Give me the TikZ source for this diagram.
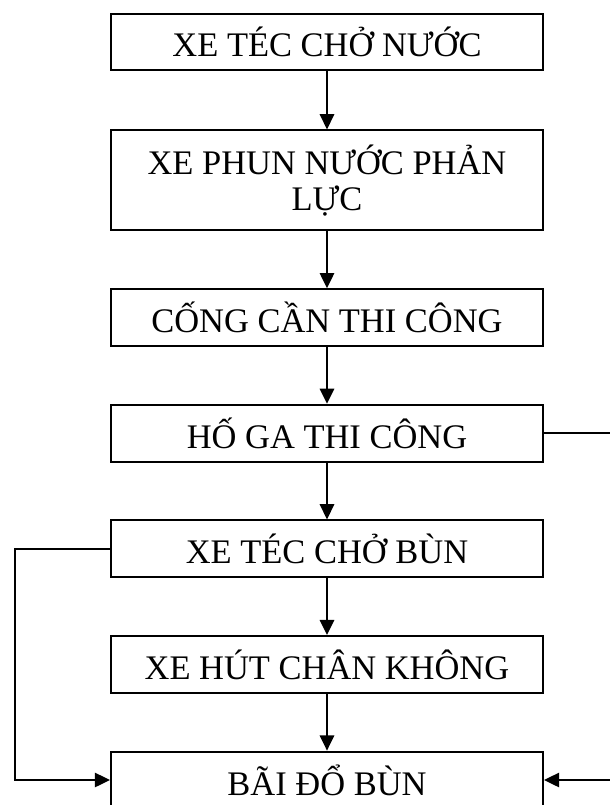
\documentclass[tikz,border=0pt]{standalone}
\usepackage{fontspec}
\setmainfont{Liberation Serif}
\usetikzlibrary{positioning, arrows.meta}

\begin{document}
\begin{tikzpicture}[x=0.025cm, y=-0.025cm, line width=1.4pt,
    every node/.style={draw, minimum width=10.8cm, minimum height=1.42cm,
        align=center, font=\fontsize{24.5}{26}\selectfont},
    >={Triangle[length=3.8mm, width=3.6mm]}]
    \useasboundingbox (0, 0) rectangle (610, 805);

    \node(tec) at (327, 42) {XE TÉC CHỞ NƯỚC};
    \node[below=1.45cm of tec, minimum height=2.5cm](phun) {XE PHUN NƯỚC PHẢN\\LỰC};
    \node[below=1.42cm of phun](cong) {CỐNG CẦN THI CÔNG};
    \node[below=1.42cm of cong](hoga) {HỐ GA THI CÔNG};
    \node[below=1.42cm of hoga](bun) {XE TÉC CHỞ BÙN};
    \node[below=1.42cm of bun](hut) {XE HÚT CHÂN KHÔNG};
    \node[below=1.42cm of hut](bai) {BÃI ĐỔ BÙN};

    \draw[->] (tec) -- (phun);
    \draw[->] (phun) -- (cong);
    \draw[->] (cong) -- (hoga);
    \draw[->] (hoga) -- (bun);
    \draw[->] (bun) -- (hut);
    \draw[->] (hut) -- (bai);

    % hai nhanh ve bai do
    \draw[->] (hoga.east) -- ++(80, 0) |- (bai.east);
    \draw[->] (bun.west) -- ++(-95, 0) |- (bai.west);
\end{tikzpicture}
\end{document}
